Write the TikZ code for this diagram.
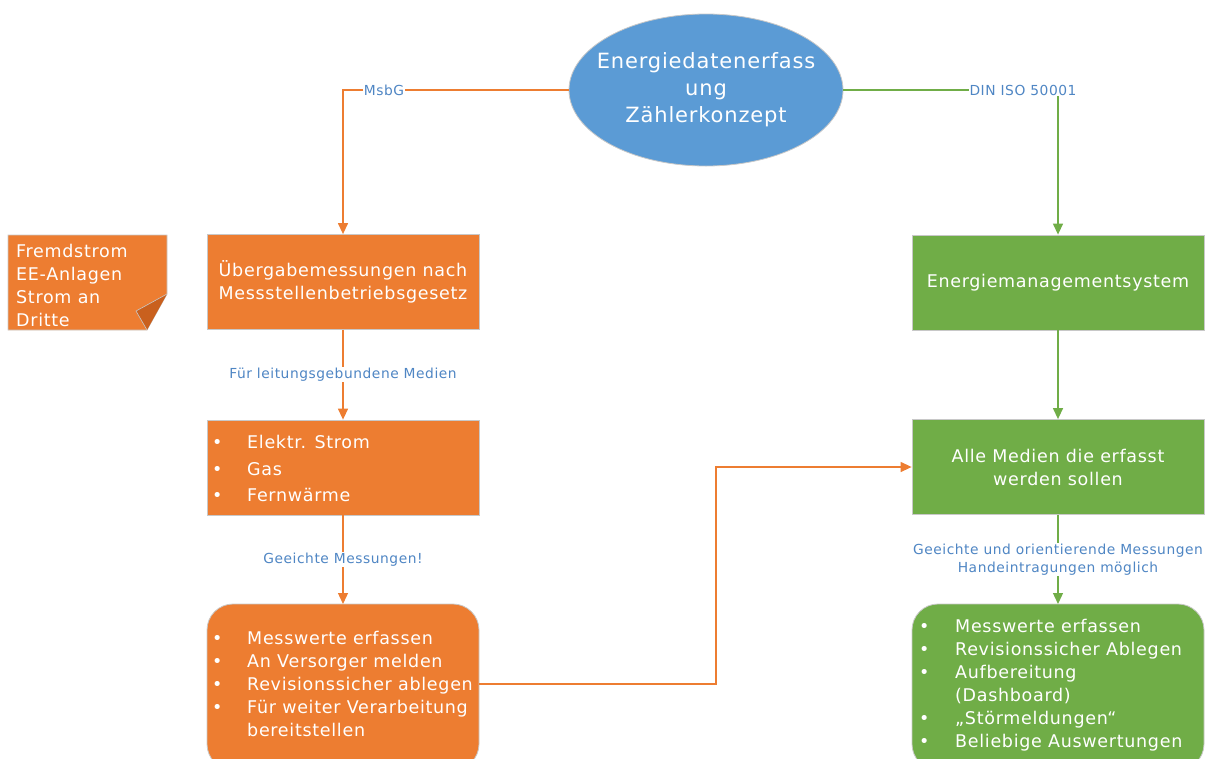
\documentclass[tikz,border=0pt]{standalone}
\usepackage{fontspec}
\setmainfont[LetterSpace=4]{DejaVu Sans}
\usetikzlibrary{arrows.meta,shapes.geometric}
\definecolor{orng}{HTML}{ED7D31}
\definecolor{orngdark}{HTML}{C9601E}
\definecolor{grn}{HTML}{70AD47}
\definecolor{blu}{HTML}{5B9BD5}
\definecolor{lbl}{HTML}{4F86C4}
\definecolor{edge}{HTML}{C8C8C8}
\tikzset{
  box/.style={draw=edge, line width=0.8pt, minimum height=95pt, inner sep=0pt, text=white, font=\fontsize{17.5}{23}\selectfont, align=center},
  obox/.style={box, fill=orng, minimum width=272pt},
  gbox/.style={box, fill=grn, minimum width=292pt},
  lab/.style={fill=white, text=lbl, inner sep=1pt, font=\fontsize{13.8}{18}\selectfont, align=center},
  oline/.style={draw=orng, line width=1.3pt},
  gline/.style={draw=grn, line width=1.3pt},
  tip/.style={-{Triangle[width=10pt,length=11pt]}},
  bul/.style={text=white, font=\fontsize{17.5}{23}\selectfont, anchor=north west, inner sep=0pt}
}
\begin{document}
\begin{tikzpicture}[x=1pt,y=-1pt]
\useasboundingbox (0,0) rectangle (1210,758);
\clip (0,0) rectangle (1210,758);

% central ellipse
\node[ellipse, draw=edge, line width=0.8pt, fill=blu, minimum width=274pt, minimum height=152pt, inner sep=0pt] (top) at (706,90) {};
\node[text=white, align=center, font=\fontsize{21}{27}\selectfont, inner sep=0pt] (toptext) at (top.center) {Energiedatenerfass\\ung\\Zählerkonzept};

% left branch boxes
\node[obox] (uebergabe) at (343,282) {Übergabemessungen nach\\Messstellenbetriebsgesetz};
\node[obox] (medien) at (343,467.5) {};
\draw[draw=edge, line width=0.8pt, fill=orng, rounded corners=26pt] (207,604) rectangle (479,770);
\coordinate (mess) at (343,604);
\coordinate (messR) at (479,684);

% right branch boxes
\node[gbox] (ems) at (1058,282.5) {Energiemanagementsystem};
\node[gbox] (alle) at (1058,467) {Alle Medien die erfasst\\werden sollen};
\draw[draw=edge, line width=0.8pt, fill=grn, rounded corners=26pt] (912,604) rectangle (1204,770);
\coordinate (auswert) at (1058,604);

% sticky note with folded corner
\draw[draw=edge, line width=0.8pt, fill=orng] (8,235) -- (167,235) -- (167,294) -- (147,330) -- (8,330) -- cycle;
\fill[orngdark] (167,294) -- (136,311) -- (147,330) -- cycle;
\draw[draw=edge, line width=0.6pt] (167,294) -- (136,311) -- (147,330);
\node[bul, align=left] (note) at (16,244) {Fremdstrom\\EE-Anlagen\\Strom an\\Dritte};

% bullet lists
\node[bul] (list1) at (212,430) {\renewcommand{\arraystretch}{1.15}\begin{tabular}{@{}p{35pt}@{}l@{}}
\textbullet & Elektr. Strom\\
\textbullet & Gas\\
\textbullet & Fernwärme
\end{tabular}};
\node[bul] (list2) at (212,628) {\begin{tabular}{@{}p{35pt}@{}l@{}}
\textbullet & Messwerte erfassen\\
\textbullet & An Versorger melden\\
\textbullet & Revisionssicher ablegen\\
\textbullet & Für weiter Verarbeitung\\
 & bereitstellen
\end{tabular}};
\node[bul] (list3) at (919,616) {\begin{tabular}{@{}p{36pt}@{}l@{}}
\textbullet & Messwerte erfassen\\
\textbullet & Revisionssicher Ablegen\\
\textbullet & Aufbereitung\\
 & (Dashboard)\\
\textbullet & „Störmeldungen“\\
\textbullet & Beliebige Auswertungen
\end{tabular}};

% connectors
\draw[oline, tip] (top.west) -- (343,90) -- (uebergabe.north);
\node[lab] (msbg) at (384,90) {MsbG};
\draw[gline, tip] (top.east) -- (1058,90) -- (ems.north);
\node[lab] (din) at (1023,90) {DIN ISO 50001};

\draw[oline, tip] (uebergabe.south) -- node[lab] (l1) {Für leitungsgebundene Medien} (medien.north);
\draw[oline, tip] (medien.south) -- node[lab, pos=0.5] (l2) {Geeichte Messungen!} (mess);
\draw[oline, tip] (messR) -- (716,684) |- (alle.west);

\draw[gline, tip] (ems.south) -- (alle.north);
\draw[gline, tip] (alle.south) -- node[lab, pos=0.5] (l3) {Geeichte und orientierende Messungen\\Handeintragungen möglich} (auswert);
\end{tikzpicture}
\end{document}
